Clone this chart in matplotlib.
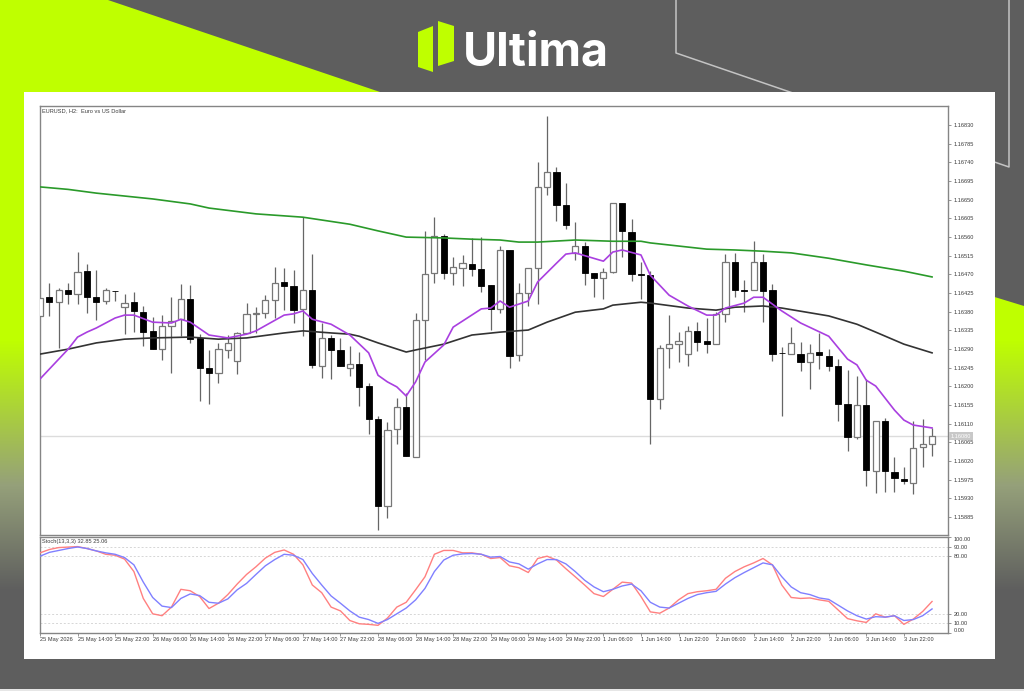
import numpy as np
import matplotlib
matplotlib.use('Agg')
import matplotlib.pyplot as plt
from matplotlib.patches import Polygon, Rectangle

# prices in points (1 point = 0.00001)
opens = [116370, 116415, 116403, 116432, 116423, 116478, 116415, 116406, 116430, 116391, 116403, 116379,
         116334, 116290, 116346, 116362, 116411, 116317, 116244, 116232, 116288, 116261, 116329, 116375,
         116377, 116408, 116452, 116442, 116387, 116432, 116249, 116317, 116288, 116244, 116254, 116201,
         116121, 115912, 116097, 116150, 116030, 116360, 116473, 116562, 116473, 116485, 116495, 116483,
         116444, 116387, 116529, 116276, 116425, 116485, 116681, 116717, 116637, 116522, 116538, 116473,
         116461, 116476, 116642, 116572, 116470, 116468, 116170, 116293, 116302, 116278, 116334, 116309,
         116302, 116375, 116500, 116432, 116432, 116500, 116432, 116281, 116278, 116278, 116259, 116283,
         116273, 116249, 116158, 116078, 116155, 115996, 116117, 115994, 115977, 115967, 116054, 116061]
highs = [116413, 116449, 116437, 116449, 116524, 116495, 116481, 116437, 116430, 116423, 116428, 116394,
         116367, 116372, 116415, 116447, 116444, 116326, 116288, 116305, 116324, 116331, 116401, 116391,
         116420, 116488, 116485, 116481, 116608, 116519, 116353, 116324, 116317, 116297, 116283, 116208,
         116129, 116114, 116172, 116184, 116377, 116575, 116608, 116567, 116512, 116517, 116558, 116560,
         116444, 116538, 116529, 116449, 116485, 116741, 116852, 116729, 116690, 116596, 116548, 116473,
         116485, 116642, 116642, 116603, 116500, 116478, 116300, 116372, 116331, 116346, 116355, 116365,
         116379, 116519, 116522, 116456, 116550, 116519, 116447, 116295, 116343, 116307, 116302, 116329,
         116290, 116266, 116240, 116225, 116218, 116117, 116124, 116030, 116006, 116117, 116121, 116100]
lows = [116370, 116370, 116293, 116399, 116399, 116377, 116360, 116399, 116406, 116326, 116331, 116297,
        116290, 116264, 116232, 116321, 116305, 116165, 116158, 116208, 116268, 116230, 116329, 116329,
        116365, 116365, 116384, 116353, 116321, 116244, 116220, 116218, 116249, 116225, 116153, 116085,
        115854, 115883, 116061, 116032, 116030, 116264, 116449, 116459, 116444, 116442, 116466, 116428,
        116336, 116377, 116244, 116261, 116394, 116399, 116661, 116599, 116579, 116505, 116444, 116415,
        116411, 116473, 116512, 116454, 116411, 116061, 116146, 116244, 116259, 116249, 116285, 116281,
        116302, 116355, 116415, 116379, 116432, 116355, 116261, 116129, 116278, 116237, 116194, 116242,
        116237, 116117, 116044, 116073, 115960, 115943, 115946, 115946, 115965, 115941, 116006, 116032]
closes = [116413, 116403, 116432, 116423, 116476, 116415, 116403, 116432, 116429, 116401, 116382, 116331,
          116290, 116346, 116358, 116411, 116314, 116244, 116232, 116290, 116305, 116329, 116375, 116377,
          116408, 116449, 116442, 116384, 116432, 116252, 116317, 116288, 116249, 116254, 116199, 116121,
          115912, 116095, 116150, 116032, 116360, 116471, 116562, 116473, 116488, 116497, 116483, 116442,
          116387, 116529, 116273, 116425, 116485, 116681, 116717, 116637, 116589, 116538, 116473, 116461,
          116476, 116642, 116575, 116471, 116468, 116170, 116293, 116302, 116309, 116334, 116307, 116302,
          116375, 116500, 116432, 116431, 116500, 116430, 116278, 116280, 116305, 116259, 116281, 116276,
          116249, 116158, 116078, 116155, 115999, 116117, 115996, 115979, 115972, 116052, 116061, 116080]

ma_green_bars = [0, 3, 6, 9, 12, 16, 18, 23, 28, 33, 36, 39, 43, 46, 49, 51, 53, 57, 61, 64, 65, 67, 71, 74,
                 77, 80, 84, 88, 92, 95]
ma_green = [116681, 116675, 116666, 116659, 116652, 116640, 116630, 116616, 116608, 116591, 116575, 116560,
            116558, 116555, 116553, 116548, 116548, 116553, 116550, 116550, 116546, 116541, 116531, 116529,
            116526, 116522, 116509, 116493, 116478, 116464]

ma_black_bars = [0, 3, 6, 9, 12, 16, 19, 22, 26, 28, 31, 33, 34, 36, 39, 40, 43, 46, 49, 52, 54, 57, 60, 61,
                 64, 65, 69, 72, 74, 77, 79, 84, 87, 89, 92, 95]
ma_black = [116278, 116290, 116305, 116314, 116317, 116319, 116314, 116317, 116329, 116334, 116329, 116326,
            116321, 116305, 116283, 116288, 116302, 116324, 116331, 116336, 116355, 116379, 116387, 116396,
            116403, 116401, 116389, 116384, 116391, 116394, 116389, 116370, 116350, 116331, 116302, 116281]

ma_purple_bars = [0, 3, 4, 5, 6, 8, 9, 10, 12, 14, 15, 16, 18, 20, 22, 23, 26, 27, 28, 29, 31, 33, 35, 36, 37,
                  38, 39, 40, 41, 43, 44, 47, 48, 49, 50, 52, 53, 55, 56, 57, 60, 61, 62, 64, 65, 67, 69, 71,
                  72, 73, 75, 76, 77, 79, 81, 84, 86, 87, 88, 89, 90, 91, 92, 93, 95]
ma_purple = [116218, 116290, 116319, 116331, 116341, 116365, 116372, 116372, 116355, 116353, 116362, 116355,
             116324, 116317, 116326, 116334, 116372, 116375, 116382, 116362, 116350, 116324, 116281, 116227,
             116211, 116199, 116177, 116211, 116259, 116300, 116343, 116387, 116389, 116406, 116391, 116406,
             116452, 116497, 116519, 116522, 116502, 116524, 116529, 116517, 116468, 116420, 116394, 116372,
             116372, 116389, 116401, 116415, 116415, 116382, 116353, 116321, 116266, 116252, 116215, 116201,
             116172, 116143, 116119, 116107, 116100]

stoch_main = [83.5, 87, 89, 89.5, 90, 88, 85.5, 82, 81, 77, 64, 36, 20, 18, 27, 45.5, 44, 38, 25.5, 31, 40, 51,
              61, 69, 78, 84, 86.5, 82, 71, 50, 42, 27, 23, 13, 9.6, 9, 8, 15.5, 27, 32, 45, 58.6, 82, 86, 86,
              83.5, 83.5, 82, 77.6, 78.6, 70, 68, 63, 77.6, 80, 76, 67, 58.6, 50, 41, 38, 45.5, 53, 52, 38, 22,
              20.6, 26, 34.5, 41, 43, 44, 45.5, 57, 64, 69, 73, 77.6, 71, 50, 37, 36, 36.5, 34.5, 33, 24, 15,
              12.7, 11, 20, 16.5, 18, 9, 14.5, 22.4, 32.85]
stoch_signal = [80, 84, 86, 88, 89.6, 88, 85.5, 83.5, 82, 78.6, 71, 53, 37, 28, 26.5, 36, 40.7, 39, 32, 31, 35.5,
                45, 51.7, 61, 70, 76.5, 82, 81, 76.5, 62, 50, 38.6, 31, 23, 16.5, 14, 10, 14, 20, 26, 34.5, 46.5,
                64, 76, 81, 82.4, 82.8, 82, 79, 79.7, 74, 72, 66.5, 72, 76.5, 76.5, 72, 64, 55, 48, 43, 45.5, 49,
                51, 44, 32, 27, 26, 31, 36, 40, 42, 43.4, 51, 57.6, 63, 68, 73, 71, 58.6, 48, 42, 40, 36.5, 35,
                29, 23, 18, 14.5, 17, 16.5, 18, 13, 14, 18, 25.06]

date_labels = ['25 May 2026', '25 May 14:00', '25 May 22:00', '26 May 06:00', '26 May 14:00', '26 May 22:00',
               '27 May 06:00', '27 May 14:00', '27 May 22:00', '28 May 06:00', '28 May 14:00', '28 May 22:00',
               '29 May 06:00', '29 May 14:00', '29 May 22:00', '1 Jun 06:00', '1 Jun 14:00', '1 Jun 22:00',
               '2 Jun 06:00', '2 Jun 14:00', '2 Jun 22:00', '3 Jun 06:00', '3 Jun 14:00', '3 Jun 22:00']
price_ticks = [1.15885 + 0.00045 * n for n in range(22)]
stoch_ticks = [100, 90, 80, 20, 10, 0]
last_price = 116080

W, H = 1024, 691
GRAY = '#5e5e5e'
LIME = '#bfff00'
TEXT = '#3a3a3a'
FRAME = '#858585'
TICK_FONT = 4.1

plt.rcParams['font.family'] = ['Liberation Sans', 'DejaVu Sans']

fig = plt.figure(figsize=(W / 100, H / 100), dpi=100, facecolor=GRAY)


def px_axes(x0, y0, x1, y1):
    return fig.add_axes([x0 / W, 1 - y1 / H, (x1 - x0) / W, (y1 - y0) / H])


# backdrop, in pixel coordinates
bg = fig.add_axes([0, 0, 1, 1])
bg.set_xlim(0, W)
bg.set_ylim(H, 0)
bg.axis('off')

rows = np.arange(H)
stops = [0, 340, 485, 590, H]
stop_colors = [matplotlib.colors.to_rgb(col) for col in [LIME, LIME, '#95a07a', GRAY, GRAY]]
grad = np.stack([np.interp(rows, stops, [col[k] for col in stop_colors]) for k in range(3)], axis=1)[:, None, :]

for shape in ([(0, 0), (108, 0), (380, 92), (380, 700), (0, 700)],
              [(900, 268), (1024, 306), (1024, 700), (900, 700)]):
    poly = Polygon(shape, closed=True, transform=bg.transData, facecolor='none', edgecolor='none')
    bg.add_patch(poly)
    im = bg.imshow(grad, extent=(0, W, H, 0), aspect='auto', zorder=1)
    im.set_clip_path(poly)
bg.set_xlim(0, W)
bg.set_ylim(H, 0)

bg.plot([676, 676, 1009, 1009], [0, 53, 167, 0], color='#c4c4c4', lw=1.1, zorder=2)
bg.add_patch(Rectangle((24, 92), 971, 567, facecolor='white', edgecolor='none', zorder=3))
bg.add_patch(Rectangle((0, 689), W, 2, facecolor='#e6e6e6', edgecolor='none', zorder=3))

# logo
bg.add_patch(Polygon([(418, 32), (433, 26), (433, 72), (418, 67)], facecolor=LIME, edgecolor='none', zorder=4))
bg.add_patch(Polygon([(438, 21), (454, 26), (454, 61), (438, 66)], facecolor=LIME, edgecolor='none', zorder=4))
bg.text(463, 65, 'Ultima', color='white', fontsize=33.6, fontweight='bold', family='Inter', va='baseline',
        ha='left', zorder=4)

# candles
o = np.array(opens) / 1e5
h = np.array(highs) / 1e5
l = np.array(lows) / 1e5
c = np.array(closes) / 1e5
bars = np.arange(len(o))
up = c >= o
bar_step = 9.39
x_right = (948 - 40) / bar_step

ax = px_axes(40, 106, 948, 535)
ax.set_xlim(0, x_right)
ax.set_ylim(1.15842, 1.16876)
ax.axhline(last_price / 1e5, color='#dcdcdc', lw=1, zorder=1)
ax.vlines(bars, l, h, color='#666666', lw=0.9, zorder=2)
ax.bar(bars[up], (c - o)[up], bottom=o[up], width=0.66, facecolor='white', edgecolor='#777777', lw=0.9, zorder=3)
ax.bar(bars[~up], (o - c)[~up], bottom=c[~up], width=0.66, facecolor='black', edgecolor='black', lw=0.6, zorder=3)
ax.plot(ma_green_bars, np.array(ma_green) / 1e5, color='#2a9a2a', lw=1.2, zorder=4)
ax.plot(ma_black_bars, np.array(ma_black) / 1e5, color='#333333', lw=1.2, zorder=4)
ax.plot(ma_purple_bars, np.array(ma_purple) / 1e5, color='#a93fe0', lw=1.2, zorder=5)
ax.text(42, 111, 'EURUSD, H2:  Euro vs US Dollar', transform=bg.transData, fontsize=TICK_FONT, color=TEXT,
        va='center', ha='left')

ax.set_xticks([])
ax.yaxis.tick_right()
ax.set_yticks(price_ticks)
ax.set_yticklabels(['%.5f' % p for p in price_ticks])
ax.tick_params(axis='y', length=2.2, width=0.6, color=FRAME, labelsize=TICK_FONT, labelcolor=TEXT, pad=2)
for s in ax.spines.values():
    s.set_color(FRAME)
    s.set_linewidth(1)

ax.text(x_right + 0.3, last_price / 1e5, '%.5f' % (last_price / 1e5), fontsize=TICK_FONT, color='white',
        va='center', ha='left', clip_on=False, zorder=6,
        bbox=dict(facecolor='#c8c8c8', edgecolor='none', pad=1))

# stochastic panel
ax2 = px_axes(40, 537, 948, 633)
ax2.set_xlim(0, x_right)
ax2.set_ylim(0, 100)
for lev in [90, 80, 20, 10]:
    ax2.axhline(lev, color='#d6d6d6', lw=0.7, ls=(0, (2, 2)), zorder=1)
ax2.plot(bars, stoch_main, color='#ff8080', lw=1.0, zorder=3)
ax2.plot(bars, stoch_signal, color='#8080ff', lw=1.0, zorder=4)
ax2.text(42, 541, 'Stoch(13,3,3) 32.85 25.06', transform=bg.transData, fontsize=TICK_FONT, color=TEXT,
         va='center', ha='left')

ax2.yaxis.tick_right()
ax2.set_yticks(stoch_ticks)
ax2.set_yticklabels(['%.2f' % v for v in stoch_ticks])
ax2.tick_params(axis='y', length=2.2, width=0.6, color=FRAME, labelsize=TICK_FONT, labelcolor=TEXT, pad=2)
labels = ax2.get_yticklabels()
labels[0].set_verticalalignment('top')
labels[-1].set_verticalalignment('bottom')

tick_bars = bars[::4]
ax2.set_xticks(tick_bars)
ax2.set_xticklabels(date_labels, ha='left')
ax2.tick_params(axis='x', length=2.2, width=0.6, color=FRAME, labelsize=TICK_FONT, labelcolor=TEXT, pad=1)
for s in ax2.spines.values():
    s.set_color(FRAME)
    s.set_linewidth(1)

fig.savefig('out.png', dpi=100, facecolor=fig.get_facecolor())
